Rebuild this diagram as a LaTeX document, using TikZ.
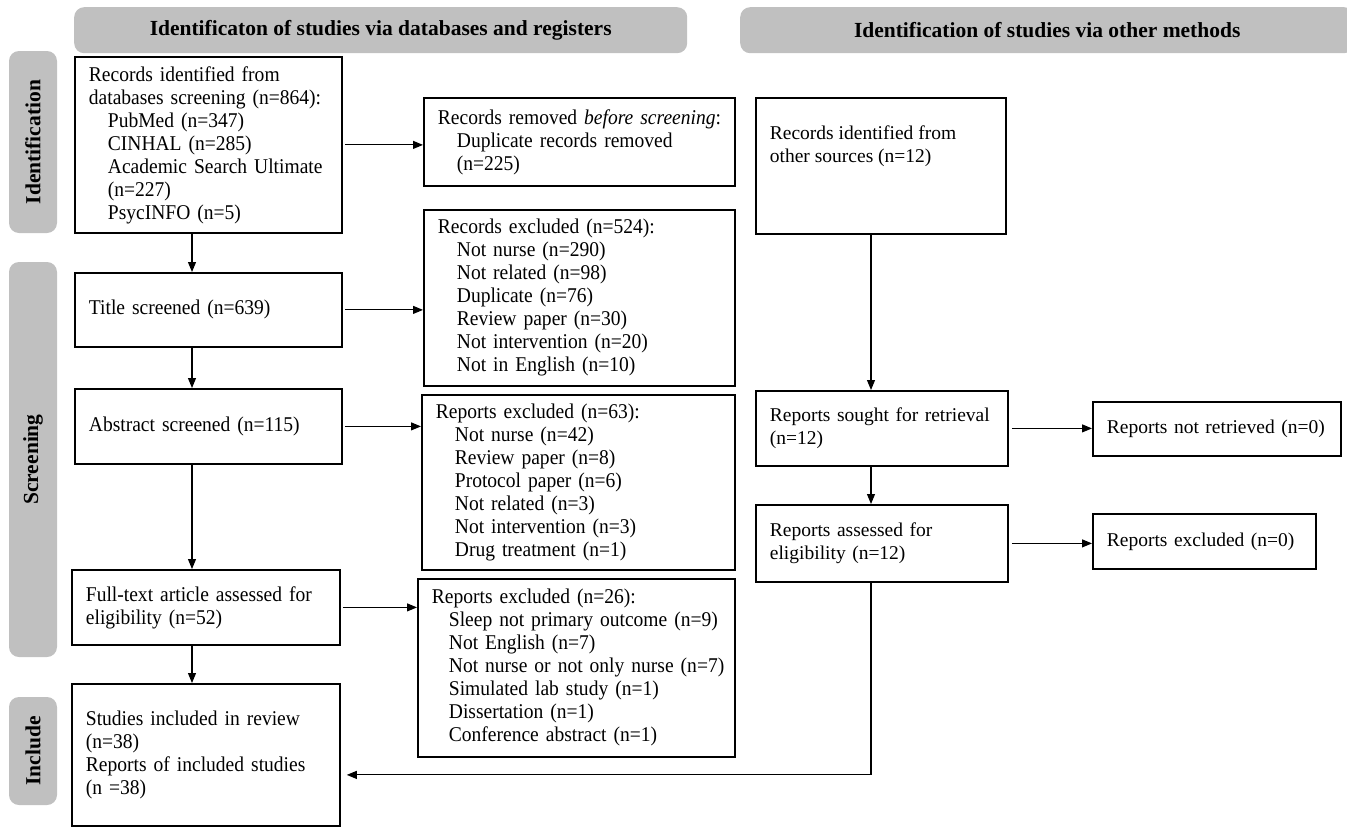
\documentclass[tikz,border=0pt]{standalone}
\usepackage{fontspec}
\setmainfont{Liberation Serif}
\newfontfamily\condfont{Liberation Serif}[FakeStretch=0.93]
\usetikzlibrary{arrows.meta}
\definecolor{bandgray}{RGB}{192,192,192}
\newcommand{\myind}{\hspace*{19pt}}
\begin{document}
\begin{tikzpicture}[x=1pt,y=-1pt,
  box/.style={draw, line width=1.8pt, anchor=north west, inner xsep=14pt, inner ysep=0pt, align=left, font=\condfont\fontsize{21}{23}\selectfont},
  rbox/.style={box, font=\fontsize{19.5}{23}\selectfont},
  band/.style={fill=bandgray, rounded corners=10pt, inner sep=0pt},
  bandtxt/.style={font=\bfseries\fontsize{21.5}{24}\selectfont},
  arr/.style={line width=1.1pt, -{Triangle[length=10pt,width=8pt]}},
  link/.style={line width=1.1pt}
]
\useasboundingbox (0,0) rectangle (1347,827);
\fill[white] (0,0) rectangle (1347,827);

% headers
\node[band, bandtxt, anchor=north west, minimum width=613pt, minimum height=46pt] (h1) at (74,7) {Identificaton of studies via databases and registers};
\node[band, bandtxt, anchor=north west, minimum width=614pt, minimum height=46pt] (h2) at (740,7) {Identification of studies via other methods};

% side bands
\node[band, bandtxt, rotate=90, minimum width=182pt, minimum height=48pt] (sIdent) at (33,142) {Identification};
\node[band, bandtxt, rotate=90, minimum width=395pt, minimum height=48pt] (sScreen) at (33,459.5) {Screening};
\node[band, bandtxt, rotate=90, minimum width=108pt, minimum height=48pt] (sInc) at (33,751) {Include};

% left column
\node[box, text width=239pt, minimum height=176pt] (rec) at (74,56)
 {\mbox{Records identified from}\\\mbox{databases screening (n=864):}\\\myind PubMed (n=347)\\\myind CINHAL (n=285)\\\myind\mbox{Academic Search Ultimate}\\\myind (n=227)\\\myind PsycINFO (n=5)};
\node[box, text width=239pt, minimum height=74pt] (title) at (74,272) {Title screened (n=639)};
\node[box, text width=239pt, minimum height=75pt] (abstract) at (74,388) {Abstract screened (n=115)};
\node[box, text width=240pt, minimum height=75pt] (full) at (71,569) {\mbox{Full-text article assessed for}\\eligibility (n=52)};
\node[box, text width=240pt, minimum height=142pt] (studies) at (71,683) {Studies included in review\\(n=38)\\\mbox{Reports of included studies}\\(n =38)};

% middle column
\node[box, text width=283pt, minimum height=88pt] (removed) at (423,97)
 {\mbox{Records removed \textit{before screening}:}\\\myind\mbox{Duplicate records removed}\\\myind (n=225)};
\node[box, text width=283pt, minimum height=176pt] (excl) at (423,209)
 {Records excluded (n=524):\\\myind Not nurse (n=290)\\\myind Not related (n=98)\\\myind Duplicate (n=76)\\\myind Review paper (n=30)\\\myind\mbox{Not intervention (n=20)}\\\myind\mbox{Not in English (n=10)}};
\node[box, text width=285pt, minimum height=175pt] (rep63) at (421,394)
 {Reports excluded (n=63):\\\myind Not nurse (n=42)\\\myind Review paper (n=8)\\\myind Protocol paper (n=6)\\\myind Not related (n=3)\\\myind\mbox{Not intervention (n=3)}\\\myind\mbox{Drug treatment (n=1)}};
\node[box, text width=289pt, minimum height=178pt] (rep26) at (417,578)
 {Reports excluded (n=26):\\\hspace*{17pt}\mbox{Sleep not primary outcome (n=9)}\\\hspace*{17pt}Not English (n=7)\\\hspace*{17pt}\mbox{Not nurse or not only nurse (n=7)}\\\hspace*{17pt}\mbox{Simulated lab study (n=1)}\\\hspace*{17pt}Dissertation (n=1)\\\hspace*{17pt}\mbox{Conference abstract (n=1)}};

% right column
\node[rbox, minimum height=136pt] (other) at (755,97)
 {\parbox[c][80pt][t]{222pt}{Records identified from\\other sources (n=12)}};
\node[rbox, text width=224pt, minimum height=75pt] (sought) at (755,390) {\mbox{Reports sought for retrieval}\\(n=12)};
\node[rbox, text width=224pt, minimum height=77pt] (assessed) at (755,504) {Reports assessed for\\eligibility (n=12)};
\node[rbox, text width=220pt, minimum height=54pt] (notret) at (1092,401) {\mbox{Reports not retrieved (n=0)}};
\node[rbox, text width=195pt, minimum height=55pt] (excl0) at (1092,513) {\mbox{Reports excluded (n=0)}};

% connector columns
\coordinate (lx) at (192,0);
\coordinate (rx) at (871,0);

% vertical arrows
\draw[arr] (rec.south -| lx) -- (title.north -| lx);
\draw[arr] (title.south -| lx) -- (abstract.north -| lx);
\draw[arr] (abstract.south -| lx) -- (full.north -| lx);
\draw[arr] (full.south -| lx) -- (studies.north -| lx);
\draw[arr] (other.south -| rx) -- (sought.north -| rx);
\draw[arr] (sought.south -| rx) -- (assessed.north -| rx);

% horizontal arrows
\draw[arr, shorten <=2pt] (rec.east) -- (rec.east -| removed.west);
\draw[arr, shorten <=2pt] (title.east) -- (title.east -| excl.west);
\draw[arr, shorten <=2pt] (abstract.east) -- (abstract.east -| rep63.west);
\draw[arr, shorten <=2pt] (full.east) -- (full.east -| rep26.west);
\draw[arr, shorten <=3pt] (sought.east) -- (sought.east -| notret.west);
\draw[arr, shorten <=3pt] (assessed.east) -- (assessed.east -| excl0.west);

% bottom return connector
\draw[arr, shorten >=6pt] (assessed.south -| rx) |- ([yshift=-20pt]studies.east);
\end{tikzpicture}
\end{document}
